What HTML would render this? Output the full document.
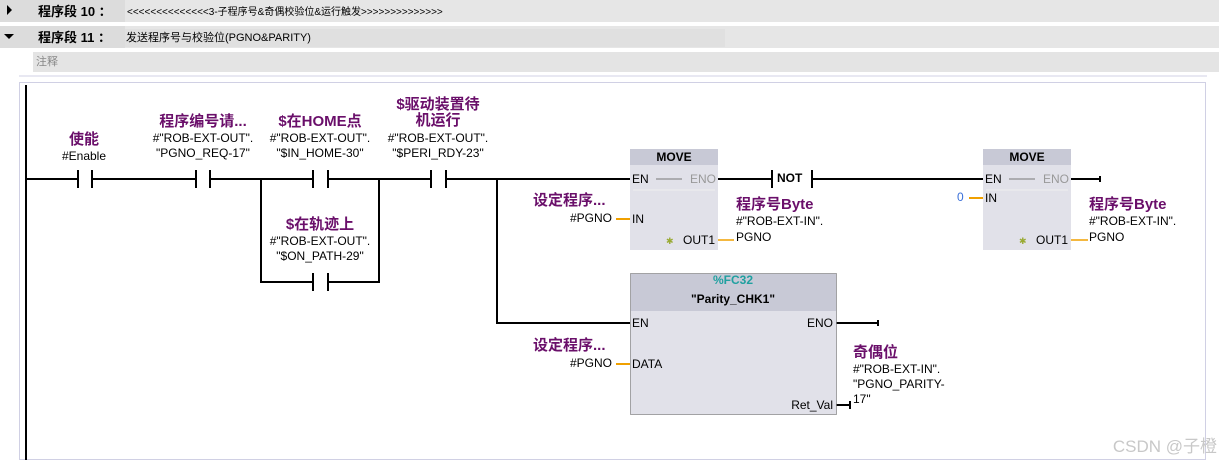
<!DOCTYPE html>
<html><head><meta charset="utf-8"><style>
html,body{margin:0;padding:0;background:#fff;width:1219px;height:467px;overflow:hidden}
svg{display:block}
text{font-family:"Liberation Sans","Noto Sans CJK SC",sans-serif;font-size:12px;fill:#000}
.b{font-weight:bold}
.p{fill:#6a0f6a;font-weight:bold;font-size:15px}
</style></head><body>
<svg width="1219" height="467" xmlns="http://www.w3.org/2000/svg">
<rect x="0" y="0" width="1219" height="22" fill="#e6e6e6"/>
<rect x="0" y="0" width="125" height="22" fill="#dcdcdc"/>
<rect x="0" y="26" width="1219" height="22" fill="#e6e6e6"/>
<rect x="0" y="26" width="125" height="22" fill="#dcdcdc"/>
<rect x="125" y="29" width="600" height="18" fill="#e0e0e0"/>
<polygon points="7,5 12,10 7,15" fill="#000"/>
<polygon points="4,34 14,34 9,39" fill="#000"/>
<text x="38" y="16" class="b" style="font-size:13px">程序段 10 ：</text>
<text x="127" y="15" style="font-size:10px">&lt;&lt;&lt;&lt;&lt;&lt;&lt;&lt;&lt;&lt;&lt;&lt;&lt;&lt;3-子程序号&amp;奇偶校验位&amp;运行触发&gt;&gt;&gt;&gt;&gt;&gt;&gt;&gt;&gt;&gt;&gt;&gt;&gt;&gt;</text>
<text x="38" y="42" class="b" style="font-size:13px">程序段 11 ：</text>
<text x="126" y="41" style="font-size:11px">发送程序号与校验位(PGNO&amp;PARITY)</text>
<rect x="33" y="52" width="1186" height="20" fill="#e4e4e4"/>
<text x="36" y="65" style="fill:#888;font-size:11px">注释</text>
<line x1="19" y1="76" x2="1207" y2="76" stroke="#d0d0e4" stroke-width="1"/>
<rect x="19.5" y="82.5" width="1186" height="377" fill="none" stroke="#d0d0e4"/>
<line x1="26" y1="85" x2="26" y2="460" stroke="#000" stroke-width="2"/>
<g stroke="#000" stroke-width="2" fill="none">
<polyline points="26,179 78,179"/><line x1="78" y1="170" x2="78" y2="188"/><line x1="92" y1="170" x2="92" y2="188"/>
<polyline points="92,179 196,179"/><line x1="196" y1="170" x2="196" y2="188"/><line x1="210" y1="170" x2="210" y2="188"/>
<polyline points="210,179 313,179"/><line x1="313" y1="170" x2="313" y2="188"/><line x1="328" y1="170" x2="328" y2="188"/>
<polyline points="328,179 431,179"/><line x1="431" y1="170" x2="431" y2="188"/><line x1="446" y1="170" x2="446" y2="188"/>
<polyline points="446,179 630,179"/>
<polyline points="261,179 261,282 313,282"/><line x1="313" y1="273" x2="313" y2="291"/><line x1="328" y1="273" x2="328" y2="291"/>
<polyline points="328,282 379,282 379,179"/>
<polyline points="497,179 497,323 630,323"/>
<polyline points="718,179 772,179"/><line x1="772" y1="170" x2="772" y2="188"/><line x1="812" y1="170" x2="812" y2="188"/>
<polyline points="812,179 983,179"/>
<polyline points="1071,179 1100,179"/><line x1="1100" y1="176" x2="1100" y2="182"/>
<polyline points="836,323 878,323"/><line x1="878" y1="320" x2="878" y2="326"/>
<polyline points="836,405 850,405"/><line x1="850" y1="401" x2="850" y2="409"/>
</g>
<text x="777" y="182" class="b">NOT</text>
<text x="84" y="144" class="p" text-anchor="middle">使能</text>
<text x="84" y="160" text-anchor="middle">#Enable</text>
<text x="203" y="126" class="p" text-anchor="middle">程序编号请...</text>
<text x="203" y="142" text-anchor="middle">#"ROB-EXT-OUT".</text>
<text x="203" y="157" text-anchor="middle">"PGNO_REQ-17"</text>
<text x="320" y="126" class="p" text-anchor="middle">$在HOME点</text>
<text x="320" y="142" text-anchor="middle">#"ROB-EXT-OUT".</text>
<text x="320" y="157" text-anchor="middle">"$IN_HOME-30"</text>
<text x="438" y="109" class="p" text-anchor="middle">$驱动装置待</text>
<text x="438" y="125" class="p" text-anchor="middle">机运行</text>
<text x="438" y="142" text-anchor="middle">#"ROB-EXT-OUT".</text>
<text x="438" y="157" text-anchor="middle">"$PERI_RDY-23"</text>
<text x="320" y="229" class="p" text-anchor="middle">$在轨迹上</text>
<text x="320" y="245" text-anchor="middle">#"ROB-EXT-OUT".</text>
<text x="320" y="260" text-anchor="middle">"$ON_PATH-29"</text>
<rect x="630" y="149" width="88" height="101" fill="#e1e1e9"/>
<rect x="630" y="149" width="88" height="16" fill="#c8c9d6"/>
<text x="674" y="161" class="b" text-anchor="middle">MOVE</text>
<text x="632" y="183">EN</text><line x1="656" y1="179" x2="682" y2="179" stroke="#777"/>
<text x="690" y="183" style="fill:#999">ENO</text>
<line x1="633" y1="190" x2="715" y2="190" stroke="#eee"/>
<text x="632" y="223">IN</text>
<text x="683" y="244">OUT1</text><text x="666" y="244" style="fill:#9a3;font-size:9px">✱</text>
<line x1="616" y1="219" x2="630" y2="219" stroke="#f0a000" stroke-width="2"/>
<line x1="718" y1="240" x2="734" y2="240" stroke="#f0a000" stroke-width="1.5"/>
<text x="533" y="205" class="p">设定程序...</text>
<text x="612" y="222" text-anchor="end">#PGNO</text>
<text x="736" y="209" class="p">程序号Byte</text>
<text x="736" y="225">#"ROB-EXT-IN".</text>
<text x="736" y="241">PGNO</text>
<rect x="983" y="149" width="88" height="101" fill="#e1e1e9"/>
<rect x="983" y="149" width="88" height="16" fill="#c8c9d6"/>
<text x="1027" y="161" class="b" text-anchor="middle">MOVE</text>
<text x="985" y="183">EN</text><line x1="1009" y1="179" x2="1035" y2="179" stroke="#777"/>
<text x="1043" y="183" style="fill:#999">ENO</text>
<line x1="986" y1="190" x2="1068" y2="190" stroke="#eee"/>
<text x="985" y="202">IN</text>
<text x="1036" y="244">OUT1</text><text x="1019" y="244" style="fill:#9a3;font-size:9px">✱</text>
<line x1="969" y1="198" x2="983" y2="198" stroke="#f0a000" stroke-width="2"/>
<line x1="1071" y1="240" x2="1088" y2="240" stroke="#f0a000" stroke-width="1.5"/>
<text x="957" y="201" style="fill:#3a6fd8">0</text>
<text x="1089" y="209" class="p">程序号Byte</text>
<text x="1089" y="225">#"ROB-EXT-IN".</text>
<text x="1089" y="241">PGNO</text>
<rect x="630.5" y="273.5" width="206" height="141" fill="#e1e1e9" stroke="#555" stroke-dasharray="1,1"/>
<rect x="631" y="274" width="205" height="37" fill="#c8c9d6"/>
<text x="733" y="284" class="b" text-anchor="middle" style="fill:#20a0a0">%FC32</text>
<text x="733" y="303" class="b" text-anchor="middle">"Parity_CHK1"</text>
<text x="632" y="327">EN</text>
<text x="833" y="327" text-anchor="end">ENO</text>
<text x="632" y="368">DATA</text>
<text x="833" y="409" text-anchor="end">Ret_Val</text>
<line x1="616" y1="364" x2="630" y2="364" stroke="#f0a000" stroke-width="2"/>
<text x="533" y="350" class="p">设定程序...</text>
<text x="612" y="367" text-anchor="end">#PGNO</text>
<text x="853" y="357" class="p">奇偶位</text>
<text x="853" y="373">#"ROB-EXT-IN".</text>
<text x="853" y="388">"PGNO_PARITY-</text>
<text x="853" y="403">17"</text>
<text x="1217" y="452" text-anchor="end" style="fill:#c8c8c8;font-size:17px">CSDN @子橙</text>
</svg>
</body></html>
